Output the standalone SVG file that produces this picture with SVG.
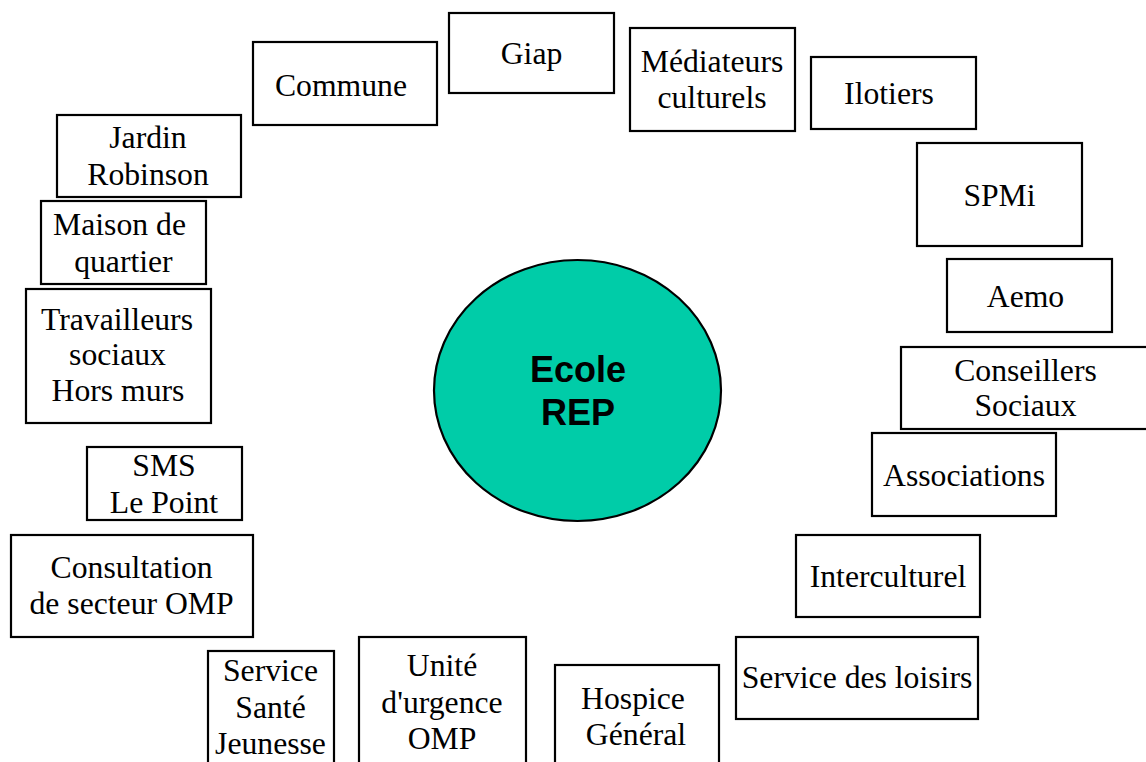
<svg xmlns="http://www.w3.org/2000/svg" width="1146" height="762" viewBox="0 0 1146 762">
<style>
.box{fill:#fff;stroke:#000;stroke-width:2.2}
.t{font-family:"Liberation Serif","Times New Roman",serif;font-size:31.7px;fill:#000;text-anchor:middle}
.c{font-family:"Liberation Sans",Arial,Helvetica,sans-serif;font-size:36px;font-weight:bold;fill:#000;text-anchor:middle}
</style>
<rect width="1146" height="762" fill="#fff"/>
<g id="connectors"/>
<g id="ecole">
<ellipse cx="577.5" cy="390.5" rx="143.5" ry="130.5" fill="#00CCA8" stroke="#000" stroke-width="2.2"/>
<text class="c" x="578" y="382">Ecole</text>
<text class="c" x="578" y="425">REP</text>
</g>
<g id="giap"><rect class="box" x="449" y="13" width="165" height="80"/><text class="t" x="531.5" y="64">Giap</text></g>
<g id="commune"><rect class="box" x="253" y="42" width="184" height="83"/><text class="t" x="341" y="96">Commune</text></g>
<g id="mediateurs"><rect class="box" x="630" y="28" width="165" height="103"/><text class="t" x="712" y="72">Médiateurs</text><text class="t" x="712" y="108">culturels</text></g>
<g id="ilotiers"><rect class="box" x="811" y="57" width="165" height="72"/><text class="t" x="889" y="104">Ilotiers</text></g>
<g id="spmi"><rect class="box" x="917" y="143" width="165" height="103"/><text class="t" x="999.5" y="206">SPMi</text></g>
<g id="aemo"><rect class="box" x="947" y="259" width="165" height="73"/><text class="t" x="1025.5" y="307">Aemo</text></g>
<g id="conseillers"><rect class="box" x="901" y="347" width="250" height="82"/><text class="t" x="1025.5" y="381">Conseillers</text><text class="t" x="1025.5" y="416">Sociaux</text></g>
<g id="associations"><rect class="box" x="872" y="433" width="184" height="83"/><text class="t" x="964" y="486">Associations</text></g>
<g id="interculturel"><rect class="box" x="796" y="535" width="184" height="82"/><text class="t" x="888" y="587">Interculturel</text></g>
<g id="loisirs"><rect class="box" x="736" y="637" width="242" height="82"/><text class="t" x="857" y="688">Service des loisirs</text></g>
<g id="hospice"><rect class="box" x="555" y="665" width="164" height="120"/><text class="t" x="633" y="709">Hospice</text><text class="t" x="636" y="745">Général</text></g>
<g id="urgence"><rect class="box" x="359" y="637" width="167" height="150"/><text class="t" x="442" y="676">Unité</text><text class="t" x="442" y="713">d'urgence</text><text class="t" x="442" y="749">OMP</text></g>
<g id="sante"><rect class="box" x="208" y="651" width="126" height="140"/><text class="t" x="270.5" y="681">Service</text><text class="t" x="270.5" y="718">Santé</text><text class="t" x="270.5" y="754">Jeunesse</text></g>
<g id="consultation"><rect class="box" x="11" y="535" width="242" height="102"/><text class="t" x="131.6" y="578">Consultation</text><text class="t" x="131.6" y="614">de secteur OMP</text></g>
<g id="sms"><rect class="box" x="87" y="447" width="155" height="73"/><text class="t" x="164" y="476">SMS</text><text class="t" x="164" y="513">Le Point</text></g>
<g id="travailleurs"><rect class="box" x="26" y="289" width="185" height="134"/><text class="t" x="117" y="330">Travailleurs</text><text class="t" x="117.5" y="365">sociaux</text><text class="t" x="118" y="401">Hors murs</text></g>
<g id="maison"><rect class="box" x="41" y="201" width="165" height="83"/><text class="t" x="119.5" y="235">Maison de</text><text class="t" x="123.4" y="272">quartier</text></g>
<g id="jardin"><rect class="box" x="57" y="115" width="184" height="82"/><text class="t" x="148" y="148">Jardin</text><text class="t" x="148" y="185">Robinson</text></g>
</svg>
